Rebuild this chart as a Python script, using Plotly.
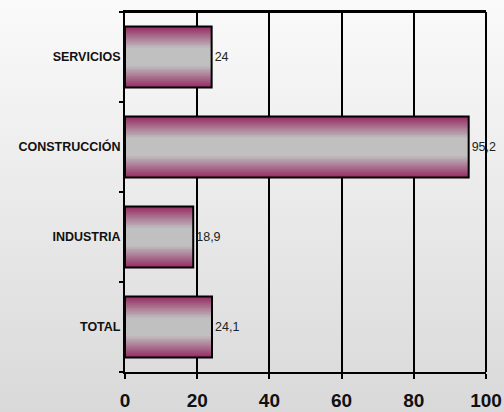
import base64
import plotly.graph_objects as go

# datos
categorias = ['TOTAL', 'INDUSTRIA', 'CONSTRUCCIÓN', 'SERVICIOS']
valores = [24.1, 18.9, 95.2, 24]
etiquetas = ['24,1', '18,9', '95,2', '24']
ticks_x = [0, 20, 40, 60, 80, 100]

ancho_barra = 0.68
borde = (150, 45, 100)    # granate en los bordes de la barra
centro = (192, 192, 192)  # gris en el centro

W, H = 504, 412
M_IZQ, M_DER, M_SUP, M_INF = 125, 18, 12, 40


def mezcla(c1, c2, t):
    return 'rgb(%d,%d,%d)' % tuple(round(a + (b - a) * t) for a, b in zip(c1, c2))


fig = go.Figure()

# degradado vertical de las barras: capas superpuestas cada vez mas estrechas
n_capas = 18
for k in range(n_capas):
    t = k / (n_capas - 1)
    fig.add_trace(go.Bar(
        y=categorias, x=valores, orientation='h',
        width=ancho_barra * (1 - 0.8 * t),
        marker=dict(color=mezcla(borde, centro, min(1, t * 1.15)), line=dict(width=0)),
        hoverinfo='skip', showlegend=False,
    ))

# contorno negro y etiquetas de valor
fig.add_trace(go.Bar(
    y=categorias, x=valores, orientation='h', width=ancho_barra,
    marker=dict(color='rgba(0,0,0,0)', line=dict(color='black', width=2)),
    text=etiquetas, textposition='outside', cliponaxis=False,
    textfont=dict(family='Liberation Sans, Arial', size=12.5, color='#222222'),
    showlegend=False,
))

# fondo con degradado: imagen svg que cubre toda la figura
svg = ('<svg xmlns="http://www.w3.org/2000/svg" width="%d" height="%d">'
       '<defs><linearGradient id="g" x1="0" y1="0" x2="0" y2="1">'
       '<stop offset="0" stop-color="#fafafa"/><stop offset="1" stop-color="#d9d9d9"/>'
       '</linearGradient></defs><rect width="100%%" height="100%%" fill="url(#g)"/></svg>'
       % (W, H))
fuente = 'data:image/svg+xml;base64,' + base64.b64encode(svg.encode()).decode()
ancho_plot = W - M_IZQ - M_DER
alto_plot = H - M_SUP - M_INF
fig.add_layout_image(
    source=fuente, xref='paper', yref='paper',
    x=-M_IZQ / ancho_plot, y=1 + M_SUP / alto_plot,
    sizex=W / ancho_plot, sizey=H / alto_plot,
    xanchor='left', yanchor='top', sizing='stretch', layer='below',
)

# marco superior y derecho
fig.add_shape(type='line', xref='paper', yref='paper', x0=0, x1=1, y0=1, y1=1,
              line=dict(color='black', width=2), layer='above')
fig.add_shape(type='line', xref='paper', yref='paper', x0=1, x1=1, y0=0, y1=1,
              line=dict(color='black', width=2), layer='above')

fig.update_layout(
    width=W, height=H,
    margin=dict(l=M_IZQ, r=M_DER, t=M_SUP, b=M_INF),
    barmode='overlay',
    paper_bgcolor='rgb(234,234,234)',
    plot_bgcolor='rgba(0,0,0,0)',
    font=dict(family='Liberation Sans, Arial', color='#111111'),
    xaxis=dict(
        range=[0, 100], tickvals=ticks_x, showgrid=True, gridcolor='black', gridwidth=2,
        zeroline=False, showline=True, linecolor='black', linewidth=2, mirror=True,
        ticks='outside', ticklen=5, tickwidth=2, tickcolor='black', automargin=False,
        tickfont=dict(size=19, weight='bold', color='#111111'), ticklabelstandoff=5,
    ),
    yaxis=dict(
        categoryorder='array', categoryarray=categorias, range=[-0.5, 3.5],
        showgrid=False, zeroline=False, showline=True, linecolor='black', linewidth=2,
        ticks='outside', ticklen=4, tickwidth=2, tickcolor='black',
        tickson='boundaries', automargin=False,
        tickfont=dict(size=12.5, weight='bold', color='#111111'),
    ),
)

# sin margen del <body> para que la figura ocupe toda la ventana
fig.write_html("out.html", config={'displayModeBar': False},
               post_script="document.body.style.margin='0';")
